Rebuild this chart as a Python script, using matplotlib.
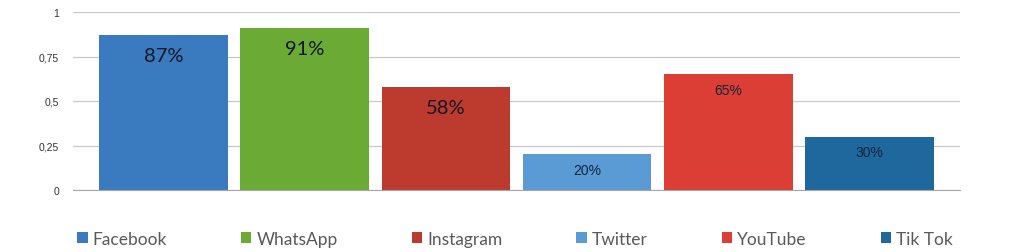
import matplotlib
matplotlib.use("Agg")
import matplotlib.pyplot as plt
from matplotlib.patches import Patch

platforms = ["Facebook", "WhatsApp", "Instagram", "Twitter", "YouTube", "Tik Tok"]
shares = [0.87, 0.91, 0.58, 0.20, 0.65, 0.30]
bar_labels = ["87%", "91%", "58%", "20%", "65%", "30%"]
colors = ["#3a7bbf", "#6aaa35", "#bd3a2f", "#5b9bd5", "#db3e34", "#1f689e"]
yticks = [0, 0.25, 0.5, 0.75, 1]
ytick_labels = ["0", "0,25", "0,5", "0,75", "1"]

fig = plt.figure(figsize=(10.24, 2.53), dpi=100)
ax = fig.add_axes([73 / 1024, 62 / 253, 887 / 1024, 178 / 253])

x = list(range(len(platforms)))
bars = ax.bar(x, shares, width=0.91, color=colors, zorder=3)

# first three labels are bigger (Calibri-like), last three smaller (Arial-like)
for i, (b, lab) in enumerate(zip(bars, bar_labels)):
    h = b.get_height()
    if i < 3:
        ax.annotate(lab, (b.get_x() + b.get_width() / 2, h), xytext=(0, -15),
                    textcoords="offset points", ha="center", va="center",
                    fontsize=14.5, family="Lato", color="#111827", zorder=4)
    else:
        ax.annotate(lab, (b.get_x() + b.get_width() / 2, h), xytext=(0, -11),
                    textcoords="offset points", ha="center", va="center",
                    fontsize=10, family="Liberation Sans", color="#14243a", zorder=4)

ax.set_xlim(-0.64, 5.64)
ax.set_ylim(0, 1)
ax.set_yticks(yticks)
ax.set_yticklabels(ytick_labels, fontsize=7.5, color="#333333", family="Liberation Sans")
ax.set_xticks([])
ax.tick_params(axis="y", length=0, pad=10)
ax.grid(axis="y", color="#c8c8c8", linewidth=0.9, zorder=0)
for s in ["top", "right", "left"]:
    ax.spines[s].set_visible(False)
ax.spines["bottom"].set_color("#a6a6a6")
ax.spines["bottom"].set_zorder(5)

handles = [Patch(facecolor=c, label=p) for c, p in zip(colors, platforms)]
leg = fig.legend(handles=handles, ncol=6, loc="center", bbox_to_anchor=(0.503, 0.052),
                 frameon=False, handlelength=0.6, handleheight=0.6, columnspacing=4.25,
                 handletextpad=0.3, prop={"family": "Lato", "size": 12.5})
for t in leg.get_texts():
    t.set_color("#595959")

fig.savefig("out.png", dpi=100)
plt.close(fig)
